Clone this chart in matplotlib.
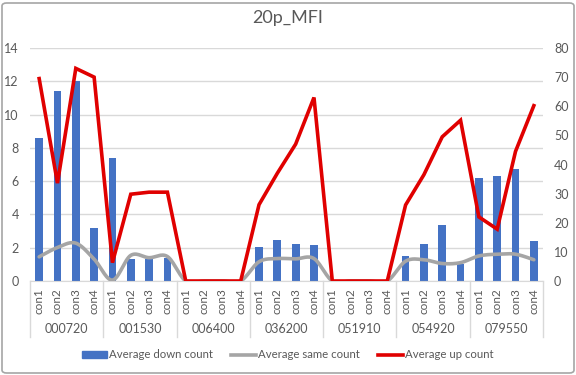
import matplotlib
matplotlib.use("Agg")
import matplotlib.pyplot as plt
import numpy as np
from matplotlib.patches import FancyBboxPatch
from matplotlib.lines import Line2D
from matplotlib.patches import Patch

plt.rcParams["font.family"] = ["Lato", "DejaVu Sans"]

groups = ["000720", "001530", "006400", "036200", "051910", "054920", "079550"]
conds = ["con1", "con2", "con3", "con4"]

# left axis
down_count = [8.6, 11.4, 12.0, 3.2,
              7.4, 1.3, 1.35, 1.4,
              0, 0, 0, 0,
              2.05, 2.45, 2.2, 2.15,
              0, 0, 0, 0,
              1.5, 2.25, 3.35, 1.05,
              6.2, 6.3, 6.75, 2.4]
# right axis
same_count = [8.3, 11.5, 13.0, 7.5,
              0.3, 8.8, 8.0, 8.4,
              0, 0, 0, 0,
              6.6, 7.7, 7.6, 7.7,
              0, 0, 0, 0,
              6.8, 7.3, 6.0, 6.3,
              8.6, 9.2, 9.2, 7.3]
up_count = [69.5, 33.6, 73.0, 70.0,
            6.3, 29.8, 30.5, 30.5,
            0, 0, 0, 0,
            26.2, 37.0, 47.0, 63.0,
            0, 0, 0, 0,
            26.1, 36.5, 49.5, 55.2,
            22.0, 17.8, 44.5, 60.2]

BLUE = "#4472C4"
GRAY = "#A5A5A5"
RED = "#E00000"
TXT = "#595959"


def smooth(x, y, n=16):
    # Catmull-Rom style smoothing, like Excel's "smoothed line"
    x = np.asarray(x, float)
    y = np.asarray(y, float)
    px = np.concatenate([[x[0]], x, [x[-1]]])
    py = np.concatenate([[y[0]], y, [y[-1]]])
    xs, ys = [], []
    t = np.linspace(0, 1, n, endpoint=False)
    for i in range(1, len(px) - 2):
        p0, p1, p2, p3 = (np.array([px[j], py[j]]) for j in (i - 1, i, i + 1, i + 2))
        c1 = p1 + (p2 - p0) / 6
        c2 = p2 - (p3 - p1) / 6
        pts = ((1 - t) ** 3)[:, None] * p1 + (3 * (1 - t) ** 2 * t)[:, None] * c1 \
            + (3 * (1 - t) * t ** 2)[:, None] * c2 + (t ** 3)[:, None] * p2
        xs.extend(pts[:, 0])
        ys.extend(pts[:, 1])
    xs.append(x[-1])
    ys.append(y[-1])
    return np.array(xs), np.array(ys)


W, H = 576, 375
fig = plt.figure(figsize=(W / 100, H / 100), dpi=100)
fig.patches.append(FancyBboxPatch((2 / W, 2 / H), 1 - 4 / W, 1 - 5 / H,
                                  boxstyle="round,pad=0,rounding_size=0.008",
                                  transform=fig.transFigure, fill=False,
                                  edgecolor="#A6A6A6", lw=1.2))

x0, x1, ytop, ybot = 30, 543, 48, 281
ax = fig.add_axes([x0 / W, 1 - ybot / H, (x1 - x0) / W, (ybot - ytop) / H])
ax2 = ax.twinx()

n = len(down_count)
x = np.arange(n)
ax.bar(x, down_count, width=0.42, color=BLUE, zorder=2)
sx, sy = smooth(x, same_count)
ax2.plot(sx, sy, color=GRAY, lw=2.6, solid_capstyle="round")
ax2.plot(x, up_count, color=RED, lw=2.6, solid_joinstyle="miter")

ax.set_xlim(-0.5, n - 0.5)
ax.set_ylim(0, 14)
ax.set_yticks(range(0, 15, 2))
ax2.set_ylim(0, 80)
ax2.set_yticks(range(0, 81, 10))
ax.yaxis.grid(True, color="#D9D9D9", lw=1)
ax.set_axisbelow(True)
for a in (ax, ax2):
    for s in a.spines.values():
        s.set_visible(False)
    a.tick_params(axis="y", length=0, labelsize=9, colors=TXT, pad=8)
ax.spines["bottom"].set_visible(True)
ax.spines["bottom"].set_color("#D9D9D9")
ax.set_xticks([])

# multi-level category labels
tr = ax.get_xaxis_transform()
ph = ybot - ytop
for i in range(n):
    ax.text(i, -20 / ph, conds[i % 4], rotation=90, ha="center", va="center",
            fontsize=8.5, color=TXT, transform=tr)
for g, name in enumerate(groups):
    ax.text(g * 4 + 1.5, -48 / ph, name, ha="center", va="center",
            fontsize=9, color=TXT, transform=tr)
for b in range(len(groups) + 1):
    ax.add_line(Line2D([b * 4 - 0.5] * 2, [0, -56 / ph], transform=tr,
                       color="#D9D9D9", lw=1, clip_on=False))

fig.text(0.5, 1 - 18 / H, "20p_MFI", ha="center", va="center", fontsize=13, color=TXT)

handles = [Patch(color=BLUE, label="Average down count"),
           Line2D([], [], color=GRAY, lw=2.6, label="Average same count"),
           Line2D([], [], color=RED, lw=2.6, label="Average up count")]
fig.legend(handles=handles, loc="center", bbox_to_anchor=(0.5, 1 - 355 / H), ncol=3,
           frameon=False, fontsize=8.2, labelcolor=TXT, handlelength=2.2,
           handleheight=0.55, handletextpad=0.15, columnspacing=1.6)

fig.savefig("out.png", dpi=100)
